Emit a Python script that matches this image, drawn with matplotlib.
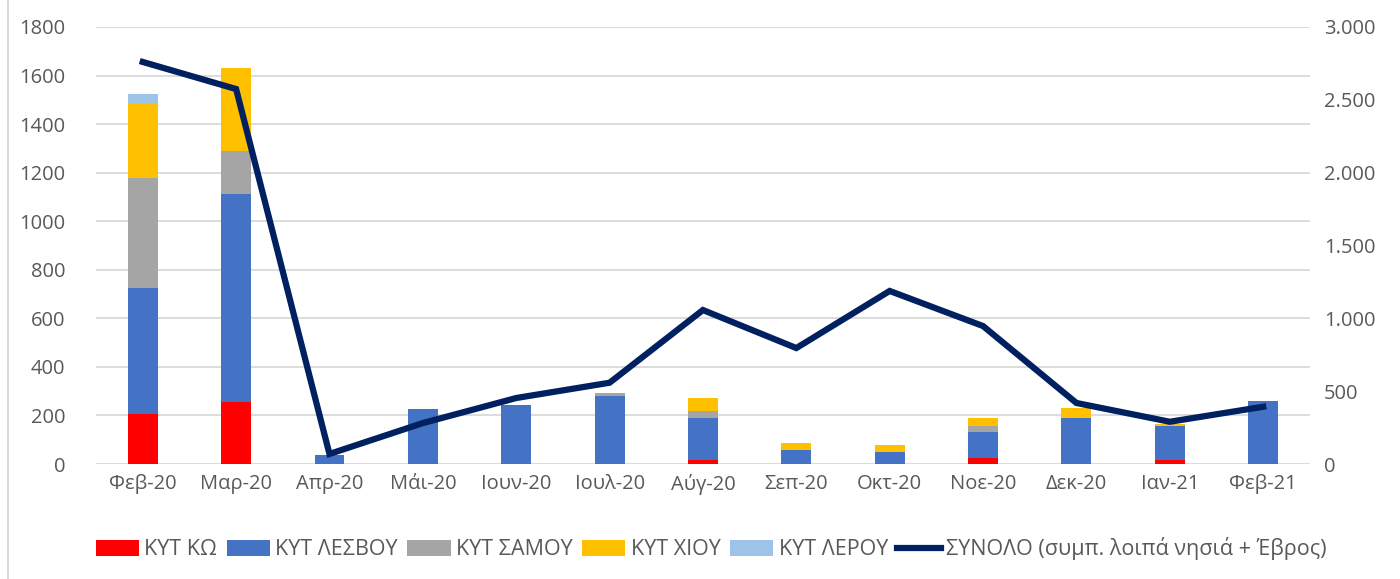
import matplotlib.pyplot as plt
import matplotlib.ticker as mticker
import numpy as np

plt.rcParams['font.family'] = ['Open Sans', 'DejaVu Sans']

months = ['Φεβ-20', 'Μαρ-20', 'Απρ-20', 'Μάι-20', 'Ιουν-20', 'Ιουλ-20', 'Αύγ-20',
          'Σεπ-20', 'Οκτ-20', 'Νοε-20', 'Δεκ-20', 'Ιαν-21', 'Φεβ-21']

kos = [206, 257, 0, 0, 0, 0, 16, 0, 0, 26, 0, 16, 0]
lesvos = [520, 856, 37, 226, 243, 280, 173, 58, 49, 106, 189, 142, 259]
samos = [453, 176, 0, 0, 0, 11, 29, 0, 0, 26, 0, 0, 0]
chios = [308, 342, 0, 0, 0, 0, 54, 28, 29, 31, 41, 8, 0]
leros = [37, 0, 0, 0, 0, 0, 0, 0, 0, 0, 0, 0, 0]
total = [2760, 2574, 69, 281, 453, 558, 1057, 796, 1188, 947, 419, 290, 393]

series = [
    ('ΚΥΤ ΚΩ', kos, '#FF0000'),
    ('ΚΥΤ ΛΕΣΒΟΥ', lesvos, '#4472C4'),
    ('ΚΥΤ ΣΑΜΟΥ', samos, '#A5A5A5'),
    ('ΚΥΤ ΧΙΟΥ', chios, '#FFC000'),
    ('ΚΥΤ ΛΕΡΟΥ', leros, '#9DC3E6'),
]

fig = plt.figure(figsize=(14, 5.79), dpi=100)
ax = fig.add_axes([0.0686, 0.1986, 0.867, 0.7548])
x = np.arange(len(months))

bottom = np.zeros(len(months))
handles = []
for name, vals, col in series:
    b = ax.bar(x, vals, width=0.32, bottom=bottom, color=col, label=name, zorder=2)
    handles.append(b)
    bottom += np.array(vals)

ax.set_ylim(0, 1800)
ax.set_yticks(range(0, 1801, 200))
ax.set_xlim(-0.5, len(months) - 0.5)
ax.set_xticks(x)
ax.set_xticklabels(months)
ax.grid(axis='y', color='#D9D9D9', linewidth=1.3, zorder=0)
ax.set_axisbelow(True)
for s in ax.spines.values():
    s.set_visible(False)
ax.tick_params(length=0, labelsize=14.5, colors='#595959')
ax.tick_params(axis='x', pad=7)
ax.tick_params(axis='y', pad=22)

ax2 = ax.twinx()
line, = ax2.plot(x, total, color='#002060', linewidth=4.5, label='ΣΥΝΟΛΟ (συμπ. λοιπά νησιά + Έβρος)',
                 zorder=3, solid_joinstyle='miter')
ax2.set_ylim(0, 3000)
ax2.set_yticks(range(0, 3001, 500))
ax2.yaxis.set_major_formatter(mticker.FuncFormatter(lambda v, p: f'{int(v):,}'.replace(',', '.')))
for s in ax2.spines.values():
    s.set_visible(False)
ax2.tick_params(length=0, labelsize=14.5, colors='#595959', pad=10)

fig.legend(handles + [line], [h.get_label() for h in handles] + [line.get_label()],
           loc='center', bbox_to_anchor=(0.508, 0.052), ncol=6, frameon=False,
           fontsize=15.5, labelcolor='#595959', handlelength=2.0, handleheight=0.75,
           handletextpad=0.25, columnspacing=0.45)

fig.patches.append(plt.Rectangle((0.006, -0.01), 1.1, 1.1, transform=fig.transFigure,
                                 fill=False, edgecolor='#D9D9D9', linewidth=1.5))

fig.savefig('out.png', dpi=100)
